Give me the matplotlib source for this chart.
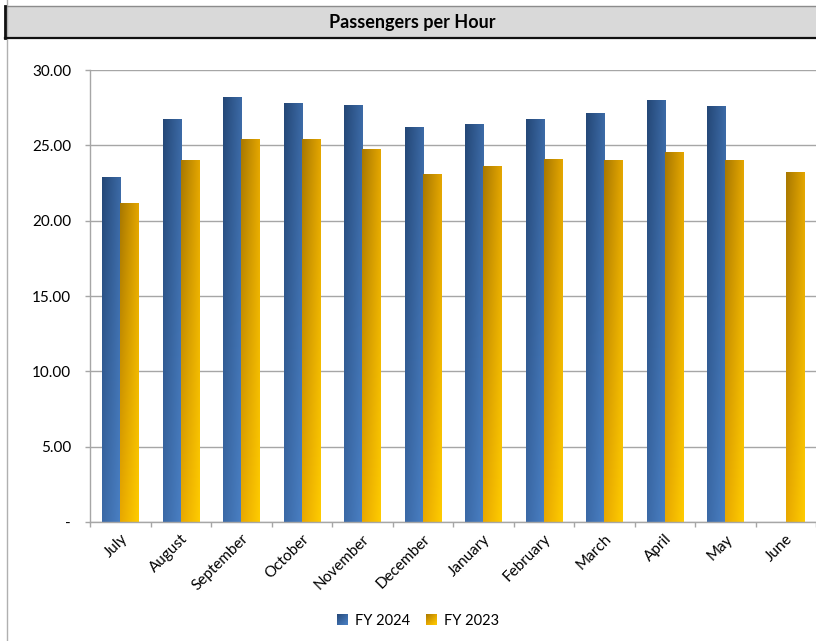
import numpy as np
import matplotlib
matplotlib.use("Agg")
import matplotlib.pyplot as plt
from matplotlib.patches import Rectangle
from matplotlib.lines import Line2D
from matplotlib.legend_handler import HandlerBase
from matplotlib.image import BboxImage
from matplotlib.transforms import Bbox, TransformedBbox
from matplotlib.colors import to_rgb

plt.rcParams['font.family'] = ['Lato', 'DejaVu Sans']

months = ["July", "August", "September", "October", "November", "December",
          "January", "February", "March", "April", "May", "June"]
fy2024 = [22.9, 26.74, 28.2, 27.8, 27.67, 26.21, 26.41, 26.74, 27.14, 28.0, 27.6, np.nan]
fy2023 = [21.17, 24.02, 25.41, 25.41, 24.75, 23.09, 23.62, 24.09, 24.02, 24.55, 24.02, 23.22]
yticks = [0, 5, 10, 15, 20, 25, 30]
ytick_labels = ["-", "5.00", "10.00", "15.00", "20.00", "25.00", "30.00"]
series_names = ["FY 2024", "FY 2023"]

# corner colours of each bar gradient: top-left, top-right, bottom-left, bottom-right
blue_corners = ["#244776", "#3c6aa6", "#3b69a6", "#4a80c4"]
gold_corners = ["#a87800", "#e4a600", "#e8a800", "#ffcc00"]


def gradient(corners, n=64):
    tl, tr, bl, br = [np.array(to_rgb(c)) for c in corners]
    tx = np.linspace(0, 1, n)[None, :, None]
    ty = np.linspace(0, 1, n)[:, None, None]
    top = tl * (1 - tx) + tr * tx
    bot = bl * (1 - tx) + br * tx
    return top * (1 - ty) + bot * ty


W, H = 816, 641
fig = plt.figure(figsize=(W / 100, H / 100), dpi=100)

# chart frame line and title band
fig.add_artist(Line2D([7 / W, 7 / W], [0, 1], color="#b0b0b0", lw=1.0))
fig.add_artist(Rectangle((5 / W, 1 - 38 / H), 1 - 5 / W, 32 / H, transform=fig.transFigure,
                         facecolor="#d9d9d9", edgecolor="none"))
fig.add_artist(Line2D([5 / W, 1], [1 - 6 / H, 1 - 6 / H], color="#8c8c8c", lw=1.0))
fig.add_artist(Line2D([5 / W, 1], [1 - 38 / H, 1 - 38 / H], color="#111111", lw=1.6))
fig.add_artist(Line2D([5 / W, 5 / W], [1 - 38 / H, 1 - 6 / H], color="#111111", lw=2.0))
fig.text(412 / W, 1 - 22.5 / H, "Passengers per Hour", ha="center", va="center",
         fontsize=13, fontweight="bold", color="#000000")

ax = fig.add_axes([90 / W, 1 - 522 / H, 1 - 90 / W, (522 - 70) / H])
x = np.arange(len(months))
bw = 0.3
bars_a = ax.bar(x - bw / 2, fy2024, bw, color="none", edgecolor="none", zorder=3)
bars_b = ax.bar(x + bw / 2, fy2023, bw, color="none", edgecolor="none", zorder=3)

img_blue = gradient(blue_corners)
img_gold = gradient(gold_corners)
for bars, img in ((bars_a, img_blue), (bars_b, img_gold)):
    for b in bars:
        h = b.get_height()
        if not np.isfinite(h) or h <= 0:
            continue
        x0 = b.get_x()
        im = ax.imshow(img, extent=[x0, x0 + b.get_width(), 0, h], aspect="auto",
                       origin="upper", zorder=3, interpolation="bilinear")
        im.set_clip_path(b)

ax.set_xlim(-0.5, len(months) - 0.5)
ax.set_ylim(0, 30)
ax.set_aspect("auto")

ax.set_yticks(yticks)
ax.set_yticklabels(ytick_labels)
ax.yaxis.grid(True, color="#a6a6a6", lw=1.0, zorder=0)
ax.set_axisbelow(True)

ax.set_xticks(np.arange(len(months) + 1) - 0.5, minor=False)
ax.set_xticklabels([])
ax.set_xticks(x, minor=True)
ax.set_xticklabels(months, minor=True, rotation=45, ha="right", rotation_mode="anchor")
ax.tick_params(axis="x", which="minor", length=0, pad=7, labelsize=11, labelcolor="#000000")
ax.tick_params(axis="x", which="major", length=3.6, width=1.0, color="#a6a6a6")
ax.tick_params(axis="y", length=3.6, width=1.0, color="#a6a6a6", pad=10,
               labelsize=11, labelcolor="#000000")

for s in ("top", "right"):
    ax.spines[s].set_visible(False)
for s in ("left", "bottom"):
    ax.spines[s].set_color("#a6a6a6")
    ax.spines[s].set_linewidth(1.0)
ax.spines["bottom"].set_zorder(4)


class GradientHandler(HandlerBase):
    def __init__(self, img):
        super().__init__()
        self.img = img

    def create_artists(self, legend, orig_handle, xdescent, ydescent, width, height,
                       fontsize, trans):
        side = min(width, height)
        x0 = -xdescent + (width - side) / 2
        y0 = -ydescent + (height - side) / 2
        bb = TransformedBbox(Bbox.from_bounds(x0, y0, side, side), trans)
        bi = BboxImage(bb, interpolation="bilinear")
        bi.set_data(self.img)
        return [bi]


h1 = Rectangle((0, 0), 1, 1, facecolor="#3c6aa6")
h2 = Rectangle((0, 0), 1, 1, facecolor="#e4a600")
fig.legend([h1, h2], series_names, loc="center", bbox_to_anchor=(418 / W, 1 - 621 / H),
           ncol=2, frameon=False, fontsize=10.5, handlelength=0.75, handleheight=0.75,
           handletextpad=0.45, columnspacing=1.1, labelcolor="#000000",
           handler_map={h1: GradientHandler(img_blue), h2: GradientHandler(img_gold)})

fig.savefig("out.png", dpi=100)
